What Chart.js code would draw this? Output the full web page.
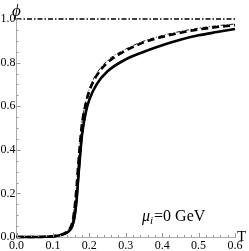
<!DOCTYPE html>
<html>
<head>
<meta charset="utf-8">
<script src="https://cdn.jsdelivr.net/npm/chart.js@4.4.1/dist/chart.umd.min.js"></script>
<style>
html,body{margin:0;padding:0;background:#fff;}
#wrap{width:249px;height:251px;position:relative;}
</style>
</head>
<body>
<div id="wrap"><canvas id="c" width="249" height="251"></canvas></div>
<script>
// Data
const T = [0, 0.05, 0.08, 0.1, 0.12, 0.13, 0.14, 0.15, 0.155, 0.16, 0.165, 0.17, 0.175, 0.18, 0.19, 0.2, 0.22, 0.25, 0.3, 0.35, 0.4, 0.45, 0.5, 0.55, 0.6];
const phiThickSolid = [0, 0, 0.001, 0.003, 0.008, 0.013, 0.022, 0.04, 0.06, 0.10, 0.17, 0.28, 0.38, 0.47, 0.57, 0.63, 0.70, 0.76, 0.815, 0.85, 0.88, 0.905, 0.925, 0.94, 0.954];
const phiThinSolid  = [0, 0, 0.001, 0.003, 0.007, 0.011, 0.018, 0.032, 0.05, 0.08, 0.14, 0.24, 0.35, 0.45, 0.56, 0.625, 0.70, 0.76, 0.815, 0.85, 0.88, 0.905, 0.925, 0.94, 0.955];
const phiThickDashed = [0, 0, 0.001, 0.003, 0.009, 0.015, 0.026, 0.05, 0.08, 0.14, 0.23, 0.34, 0.44, 0.52, 0.61, 0.67, 0.74, 0.80, 0.855, 0.893, 0.918, 0.937, 0.952, 0.963, 0.972];
const phiThinDashDot = [0, 0, 0.001, 0.003, 0.009, 0.016, 0.028, 0.053, 0.085, 0.15, 0.24, 0.35, 0.45, 0.53, 0.62, 0.68, 0.75, 0.81, 0.862, 0.899, 0.924, 0.943, 0.958, 0.969, 0.977];
const limitT = [0, 0.6];
const limitPhi = [1.0, 1.0];
const xTicks = [0, 0.1, 0.2, 0.3, 0.4, 0.5, 0.6];
const yTicks = [0, 0.2, 0.4, 0.6, 0.8, 1.0];

const pts = (xs, ys) => xs.map((x, i) => ({x: x, y: ys[i]}));

const serif = "'Liberation Serif', 'DejaVu Serif', serif";

const inwardTicks = {
  id: 'inwardTicks',
  afterDatasetsDraw(chart) {
    const ctx = chart.ctx;
    const xs = chart.scales.x, ys = chart.scales.y;
    const ca = chart.chartArea;
    ctx.save();
    ctx.strokeStyle = '#999';
    ctx.lineWidth = 1;
    for (let i = 0; i <= 30; i++) {
      const v = i * 0.02;
      const px = Math.round(xs.getPixelForValue(v)) + 0.5;
      const len = (i % 5 === 0) ? 4 : 2;
      ctx.beginPath();
      ctx.moveTo(px, ca.bottom);
      ctx.lineTo(px, ca.bottom - len);
      ctx.stroke();
    }
    for (let i = 0; i <= 20; i++) {
      const v = i * 0.05;
      const py = Math.round(ys.getPixelForValue(v)) + 0.5;
      const len = (i % 4 === 0) ? 4 : 2;
      ctx.beginPath();
      ctx.moveTo(ca.left, py);
      ctx.lineTo(ca.left + len, py);
      ctx.stroke();
    }
    // axis labels and annotation
    ctx.fillStyle = '#000';
    ctx.textBaseline = 'alphabetic';
    ctx.textAlign = 'left';
    ctx.font = "italic 17px " + serif;
    ctx.fillText('\u03D5', 12, 16);
    ctx.font = "15px " + serif;
    ctx.fillText('T', 237, 241);
    // mu_i = 0 GeV
    let x = 142, base = 221;
    ctx.font = "italic 16px " + serif;
    ctx.fillText('\u03BC', x, base);
    x += ctx.measureText('\u03BC').width;
    ctx.font = "italic 11px " + serif;
    ctx.fillText('i', x, base + 3);
    x += ctx.measureText('i').width + 1;
    ctx.font = "16px " + serif;
    ctx.fillText('=0 GeV', x, base);
    ctx.restore();
  }
};

new Chart(document.getElementById('c'), {
  type: 'scatter',
  data: {
    datasets: [
      { data: pts(limitT, limitPhi), showLine: true, borderColor: '#000', borderWidth: 1.3, borderDash: [5, 2, 1.5, 2], pointRadius: 0, fill: false },
      { data: pts(T, phiThickSolid), showLine: true, borderColor: '#000', borderWidth: 2.6, pointRadius: 0, cubicInterpolationMode: 'monotone', fill: false },
      { data: pts(T, phiThinSolid), showLine: true, borderColor: '#000', borderWidth: 0.9, pointRadius: 0, cubicInterpolationMode: 'monotone', fill: false },
      { data: pts(T, phiThickDashed), showLine: true, borderColor: '#000', borderWidth: 2.6, borderDash: [7, 4], pointRadius: 0, cubicInterpolationMode: 'monotone', fill: false },
      { data: pts(T, phiThinDashDot), showLine: true, borderColor: '#000', borderWidth: 0.9, borderDash: [4, 2, 1, 2], pointRadius: 0, cubicInterpolationMode: 'monotone', fill: false }
    ]
  },
  options: {
    responsive: false,
    animation: false,
    devicePixelRatio: 1,
    clip: false,
    layout: { padding: { left: 0, right: 14, top: 19, bottom: 0 } },
    plugins: { legend: { display: false }, tooltip: { enabled: false } },
    scales: {
      x: {
        type: 'linear', min: 0, max: 0.6,
        afterBuildTicks: s => { s.ticks = xTicks.map(v => ({value: v})); },
        afterFit: s => { s.height = 14; },
        grid: { display: false, drawTicks: false },
        border: { display: true, color: '#aaa', width: 1 },
        ticks: { color: '#000', font: { family: serif, size: 12 }, padding: 2, maxRotation: 0, autoSkip: false,
                 callback: v => Number(v).toFixed(1) }
      },
      y: {
        type: 'linear', min: 0, max: 1.0,
        afterBuildTicks: s => { s.ticks = yTicks.map(v => ({value: v})); },
        afterFit: s => { s.width = 16.5; },
        grid: { display: false, drawTicks: false },
        border: { display: true, color: '#aaa', width: 1 },
        ticks: { color: '#000', font: { family: serif, size: 12 }, padding: 1, autoSkip: false,
                 callback: v => Number(v).toFixed(1) }
      }
    }
  },
  plugins: [inwardTicks]
});
</script>
</body>
</html>
